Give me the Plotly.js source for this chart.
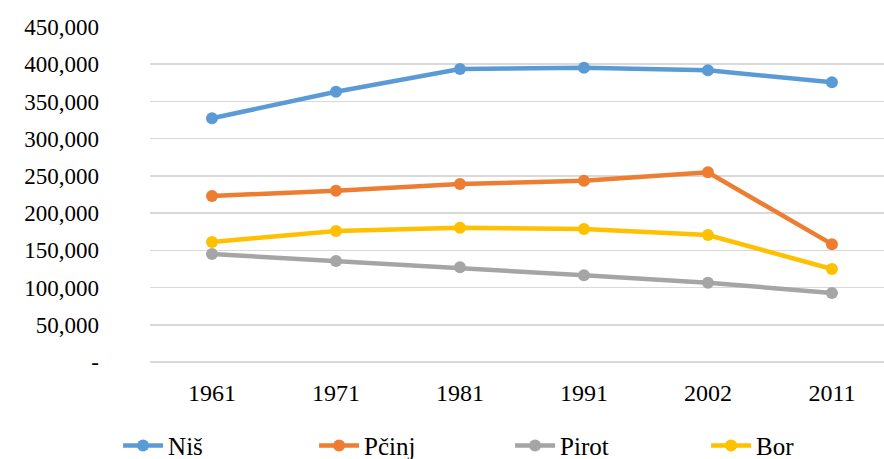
<!DOCTYPE html>
<html>
<head>
<meta charset="utf-8">
<script src="https://cdn.plot.ly/plotly-3.0.1.min.js"></script>
<style>
html,body{margin:0;padding:0;background:#fff;}
#chart{width:884px;height:459px;}
#chart text{font-family:"Liberation Serif","Times New Roman",serif !important;}
</style>
</head>
<body>
<div id="chart"></div>
<script>
const years = ["1961", "1971", "1981", "1991", "2002", "2011"];
const nis = [327400, 363100, 393600, 395300, 391800, 375700];
const pcinj = [223000, 230100, 239100, 243500, 254800, 158300];
const pirot = [145100, 135700, 127200, 116500, 106500, 92700];
const bor = [161200, 176000, 180400, 178700, 170600, 124900];
const seriesNames = ["Niš", "Pčinj", "Pirot", "Bor"];
const seriesColors = ["#5B9BD5", "#ED7D31", "#A5A5A5", "#FFC000"];
const yTickVals = [0, 50000, 100000, 150000, 200000, 250000, 300000, 350000, 400000, 450000];
const yTickText = ["-", "50,000", "100,000", "150,000", "200,000", "250,000", "300,000", "350,000", "400,000", "450,000"];

const seriesValues = [nis, pcinj, pirot, bor];
const traces = seriesValues.map((vals, i) => ({
  type: "scatter",
  mode: "lines+markers",
  name: seriesNames[i],
  x: years,
  y: vals,
  line: {color: seriesColors[i], width: 4.5},
  marker: {color: seriesColors[i], size: 12},
  cliponaxis: false
}));

const font = "Liberation Serif";
const layout = {
  width: 884,
  height: 459,
  margin: {l: 150, r: 0, t: 27, b: 97, autoexpand: false},
  paper_bgcolor: "#ffffff",
  plot_bgcolor: "#ffffff",
  font: {family: font, color: "#000000", size: 22},
  showlegend: true,
  legend: {
    orientation: "h",
    x: -0.0435,
    xanchor: "left",
    y: -0.25,
    yanchor: "middle",
    font: {family: font, size: 25, color: "#000000"},
    entrywidth: 141,
    itemwidth: 40,
    traceorder: "normal"
  },
  xaxis: {
    type: "category",
    range: [-0.5, 5.42],
    showgrid: false,
    zeroline: false,
    showline: false,
    ticks: "",
    tickfont: {family: font, size: 24, color: "#000000"},
    ticklabelstandoff: 14
  },
  yaxis: {
    range: [0, 450000],
    tickvals: yTickVals,
    ticktext: yTickText,
    showgrid: true,
    gridcolor: "#D9D9D9",
    gridwidth: 1.5,
    zeroline: true,
    zerolinecolor: "#D9D9D9",
    zerolinewidth: 1.5,
    showline: false,
    ticks: "",
    tickfont: {family: font, size: 23, color: "#000000"},
    ticklabelstandoff: 50
  }
};

Plotly.newPlot("chart", traces, layout, {displayModeBar: false, staticPlot: true});
</script>
</body>
</html>
